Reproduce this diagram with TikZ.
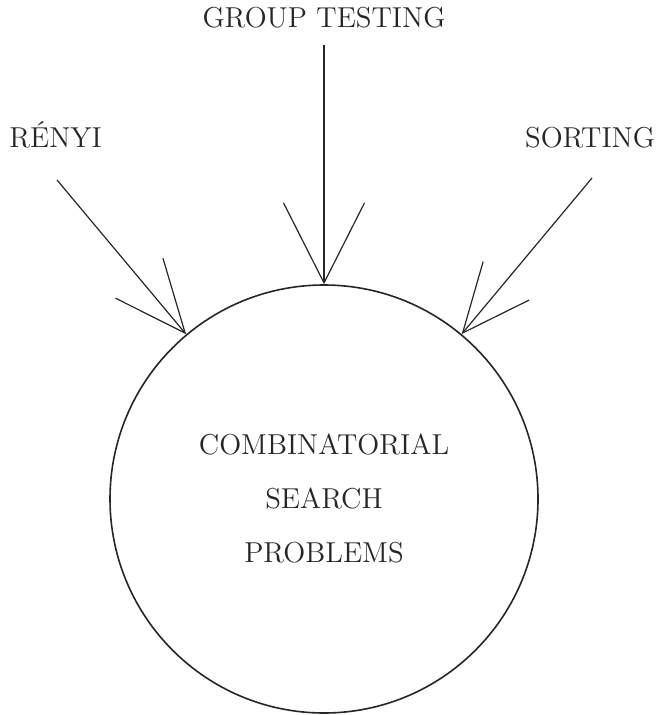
\documentclass[tikz,border=0pt]{standalone}
\usetikzlibrary{arrows.meta}
\begin{document}
\begin{tikzpicture}[x=0.5pt,y=-0.5pt,
  lbl/.style={font=\fontsize{14.4}{27}\selectfont, text=black!85, inner sep=0pt},
  conn/.style={line width=0.6pt, draw=black!85},
  bigcircle/.style={circle, draw=black!85, line width=0.8pt, minimum size=214pt, inner sep=0pt, align=center}]
\useasboundingbox (0,0) rectangle (658,715);
\node[lbl, anchor=base] (gt) at (324,28) {GROUP TESTING};
\node[lbl, anchor=base] (renyi) at (55.5,148) {RÉNYI};
\node[lbl, anchor=base] (sorting) at (590,148) {SORTING};
\node[bigcircle, lbl] (c) at (324,499) {COMBINATORIAL\\SEARCH\\PROBLEMS};
\coordinate (gs) at (324,45);
\coordinate (rs) at (57,180);
\coordinate (ss) at (592,178);
\draw[conn, -{Straight Barb[length=40pt,width=40.5pt]}] (gs) -- (c);
\draw[conn, -{Straight Barb[length=35.8pt,width=31pt]}] (rs) -- (c);
\draw[conn, -{Straight Barb[length=34pt,width=30pt]}] (ss) -- (c);
\end{tikzpicture}
\end{document}
